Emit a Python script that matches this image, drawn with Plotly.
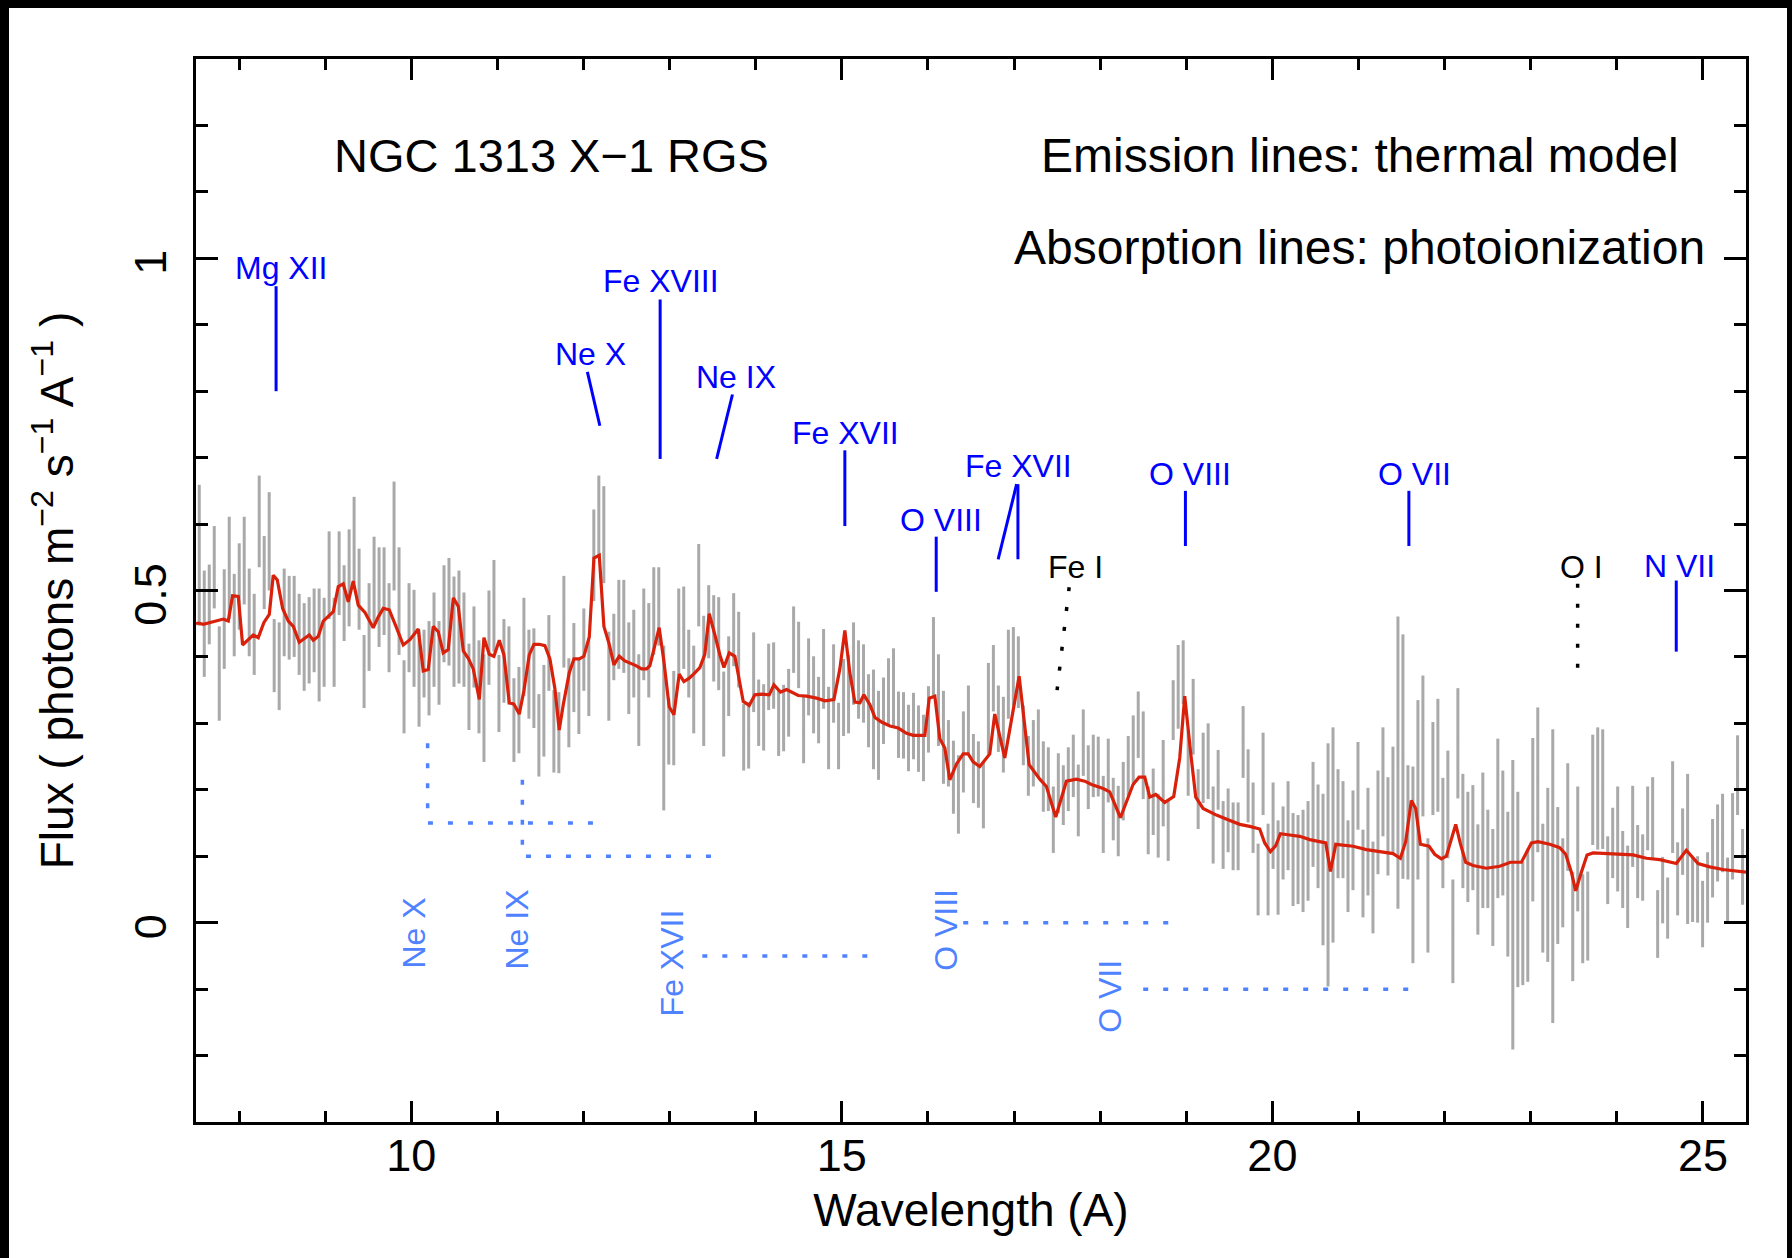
import plotly.graph_objects as go

# ---------------- data ----------------
WL_START = 7.538   # centre of first spectral bin (Angstrom)
WL_STEP = 0.058    # bin width (Angstrom)

flux = [
    0.553, 0.450, 0.479, 0.535, 0.375, 0.457, 0.534, 0.463, 0.506, 0.545,
    0.467, 0.434, 0.604, 0.527, 0.574, 0.402, 0.386, 0.467, 0.459, 0.461,
    0.434, 0.415, 0.425, 0.440, 0.418, 0.422, 0.523, 0.422, 0.526, 0.481,
    0.519, 0.576, 0.502, 0.378, 0.445, 0.514, 0.490, 0.499, 0.444, 0.582,
    0.484, 0.340, 0.444, 0.428, 0.368, 0.390, 0.383, 0.426, 0.391, 0.465,
    0.468, 0.438,
    0.445, 0.426, 0.355, 0.415, 0.355, 0.323, 0.429, 0.477, 0.345, 0.394,
    0.387, 0.305, 0.320, 0.415, 0.374, 0.368, 0.282, 0.319, 0.406, 0.288,
    0.286, 0.453, 0.331, 0.384, 0.341, 0.411, 0.368, 0.553, 0.611, 0.584,
    0.371, 0.415, 0.449, 0.446, 0.383, 0.405, 0.335, 0.434, 0.410, 0.469,
    0.476, 0.293, 0.288, 0.308, 0.438, 0.444, 0.390, 0.351, 0.508, 0.364,
    0.453, 0.428,
    0.420, 0.314, 0.371, 0.441, 0.411, 0.279, 0.282, 0.377, 0.316, 0.309,
    0.370, 0.372, 0.301, 0.308, 0.331, 0.426, 0.403, 0.290, 0.370, 0.343,
    0.320, 0.382, 0.293, 0.360, 0.281, 0.339, 0.344, 0.390, 0.366, 0.360,
    0.319, 0.306, 0.282, 0.319, 0.348, 0.354, 0.298, 0.297, 0.278, 0.296,
    0.277, 0.263, 0.306, 0.401, 0.335, 0.279, 0.255, 0.219, 0.193, 0.257,
    0.306, 0.232, 0.223,
    0.192, 0.322, 0.368, 0.307, 0.283, 0.374, 0.386, 0.377, 0.282, 0.236,
    0.255, 0.270, 0.220, 0.216, 0.155, 0.210, 0.192, 0.216, 0.236, 0.184,
    0.271, 0.219, 0.236, 0.235, 0.163, 0.229, 0.171, 0.153, 0.198, 0.236,
    0.261, 0.298, 0.252, 0.154, 0.182, 0.146, 0.210, 0.138, 0.320, 0.355,
    0.377, 0.241, 0.310, 0.186, 0.233, 0.243, 0.147, 0.215, 0.132, 0.154,
    0.130,
    0.130, 0.272, 0.206, 0.158, 0.065, 0.224, 0.080, 0.146, 0.083, 0.120,
    0.146, 0.095, 0.095, 0.093, 0.108, 0.163, 0.130, 0.080, 0.087, 0.132,
    0.149, 0.140, 0.085, 0.124, 0.206, 0.074, 0.122, 0.053, 0.151, 0.212,
    0.145, 0.184, 0.241, 0.250, 0.151, 0.087, 0.200, 0.266, 0.041, 0.232,
    0.252, 0.135, 0.178, -0.013, 0.270, 0.138, 0.114, 0.128, 0.065, 0.124,
    0.096, 0.053, 0.157,
    0.135, 0.058, 0.027, 0.050, -0.001, 0.011, 0.155, 0.215, 0.052, 0.072,
    0.070, 0.071, 0.060, 0.159, -0.006, 0.111, 0.006, 0.010, 0.200, 0.202,
    0.201, 0.079, 0.120, 0.126, 0.080, 0.054, 0.145, 0.092, 0.083, 0.157,
    0.157, -0.002, 0.049, 0.022, 0.174, 0.066, 0.122, 0.111, 0.049, 0.050,
    0.013, 0.053, 0.097, 0.120, 0.135, 0.048, 0.130, 0.222, 0.084,
]

flux_err = [
    0.106, 0.080, 0.060, 0.062, 0.071, 0.075, 0.077, 0.062, 0.065, 0.066,
    0.066, 0.061, 0.069, 0.055, 0.074, 0.055, 0.066, 0.066, 0.063, 0.061,
    0.061, 0.066, 0.065, 0.063, 0.085, 0.067, 0.066, 0.067, 0.063, 0.057,
    0.073, 0.065, 0.061, 0.055, 0.066, 0.067, 0.075, 0.066, 0.067, 0.082,
    0.081, 0.055, 0.067, 0.073, 0.073, 0.051, 0.071, 0.071, 0.063, 0.073,
    0.081, 0.083,
    0.085, 0.071, 0.065, 0.061, 0.070, 0.081, 0.071, 0.069, 0.058, 0.063,
    0.059, 0.063, 0.065, 0.074, 0.067, 0.075, 0.062, 0.069, 0.057, 0.062,
    0.061, 0.069, 0.067, 0.067, 0.057, 0.062, 0.057, 0.069, 0.062, 0.073,
    0.067, 0.050, 0.067, 0.070, 0.069, 0.066, 0.069, 0.069, 0.071, 0.066,
    0.059, 0.124, 0.050, 0.071, 0.065, 0.062, 0.051, 0.066, 0.062, 0.098,
    0.055, 0.065,
    0.070, 0.064, 0.060, 0.055, 0.057, 0.050, 0.050, 0.060, 0.050, 0.050,
    0.050, 0.050, 0.050, 0.050, 0.051, 0.050, 0.050, 0.050, 0.058, 0.058,
    0.050, 0.060, 0.062, 0.059, 0.050, 0.058, 0.059, 0.062, 0.059, 0.059,
    0.055, 0.075, 0.067, 0.050, 0.050, 0.059, 0.050, 0.050, 0.050, 0.050,
    0.050, 0.050, 0.050, 0.059, 0.069, 0.070, 0.050, 0.055, 0.059, 0.061,
    0.051, 0.052, 0.050,
    0.050, 0.069, 0.050, 0.050, 0.057, 0.067, 0.059, 0.054, 0.045, 0.045,
    0.050, 0.051, 0.053, 0.048, 0.050, 0.045, 0.045, 0.048, 0.047, 0.054,
    0.050, 0.048, 0.047, 0.045, 0.058, 0.048, 0.047, 0.053, 0.044, 0.045,
    0.051, 0.050, 0.066, 0.051, 0.050, 0.048, 0.065, 0.045, 0.045, 0.063,
    0.048, 0.050, 0.057, 0.045, 0.053, 0.057, 0.058, 0.045, 0.051, 0.048,
    0.051,
    0.051, 0.054, 0.055, 0.053, 0.054, 0.062, 0.069, 0.065, 0.071, 0.055,
    0.067, 0.070, 0.067, 0.077, 0.075, 0.079, 0.078, 0.114, 0.183, 0.162,
    0.082, 0.073, 0.069, 0.075, 0.066, 0.066, 0.081, 0.069, 0.078, 0.082,
    0.074, 0.081, 0.220, 0.184, 0.086, 0.148, 0.135, 0.106, 0.086, 0.070,
    0.085, 0.083, 0.081, 0.078, 0.083, 0.086, 0.083, 0.079, 0.083, 0.102,
    0.074, 0.088, 0.120,
    0.094, 0.109, 0.218, 0.147, 0.093, 0.100, 0.123, 0.109, 0.097, 0.131,
    0.221, 0.103, 0.067, 0.081, 0.082, 0.094, 0.067, 0.067, 0.083, 0.092,
    0.090, 0.051, 0.053, 0.079, 0.058, 0.062, 0.061, 0.055, 0.050, 0.048,
    0.062, 0.051, 0.050, 0.046, 0.069, 0.055, 0.050, 0.113, 0.048, 0.050,
    0.050, 0.053, 0.059, 0.058, 0.059, 0.050, 0.065, 0.060, 0.057,
]

wavelength = [round(WL_START + i * WL_STEP, 4) for i in range(len(flux))]

model_wl = [
    7.50, 7.527, 7.585, 7.662, 7.740, 7.817, 7.875, 7.925, 7.991, 8.041, 8.107, 8.165,
    8.223, 8.289, 8.351, 8.397, 8.444, 8.506, 8.572, 8.630, 8.699, 8.765, 8.815,
    8.862, 8.920, 8.978, 9.048, 9.094, 9.152, 9.210, 9.268, 9.326, 9.384, 9.462,
    9.558, 9.616, 9.675, 9.744, 9.822, 9.907, 9.984, 10.081, 10.139, 10.197,
    10.255, 10.313, 10.371, 10.429, 10.488, 10.546, 10.604, 10.662, 10.720,
    10.790, 10.844, 10.906, 10.960, 11.022, 11.076, 11.138, 11.192, 11.254,
    11.308, 11.370, 11.424, 11.486, 11.552, 11.610, 11.668, 11.718, 11.765,
    11.834, 11.889, 11.951, 12.005, 12.067, 12.121, 12.183, 12.237, 12.299,
    12.353, 12.415, 12.481, 12.539, 12.609, 12.674, 12.733, 12.771, 12.829,
    12.879, 12.934, 12.995, 13.050, 13.111, 13.166, 13.228, 13.293, 13.351,
    13.409, 13.460, 13.526, 13.584, 13.631, 13.692, 13.758, 13.855, 13.925,
    13.990, 14.068, 14.157, 14.211, 14.288, 14.358, 14.416, 14.494, 14.590,
    14.706, 14.803, 14.908, 14.977, 15.035, 15.093, 15.151, 15.210, 15.256,
    15.326, 15.384, 15.461, 15.558, 15.655, 15.751, 15.829, 15.898, 15.964,
    16.015, 16.080, 16.138, 16.196, 16.254, 16.332, 16.409, 16.467, 16.525,
    16.602, 16.718, 16.776, 16.892, 17.059, 17.175, 17.299, 17.376, 17.484,
    17.608, 17.724, 17.821, 17.899, 18.034, 18.111, 18.235, 18.382, 18.452,
    18.518, 18.576, 18.645, 18.750, 18.854, 18.924, 18.982, 19.048, 19.110,
    19.195, 19.350, 19.485, 19.621, 19.737, 19.853, 19.911, 19.977, 20.039,
    20.093, 20.202, 20.318, 20.434, 20.620, 20.674, 20.736, 20.937, 21.092,
    21.247, 21.401, 21.486, 21.548, 21.614, 21.664, 21.719, 21.819, 21.885,
    21.962, 22.020, 22.129, 22.183, 22.245, 22.330, 22.485, 22.640, 22.764,
    22.892, 23.008, 23.085, 23.221, 23.337, 23.406, 23.472, 23.522, 23.588,
    23.654, 23.724, 23.878, 24.072, 24.188, 24.343, 24.498, 24.691, 24.807,
    24.943, 25.078, 25.233, 25.465, 25.50,
]

model_flux = [
    0.450, 0.451, 0.449, 0.452, 0.454, 0.457, 0.454, 0.492, 0.491, 0.418, 0.426, 0.433,
    0.429, 0.452, 0.464, 0.523, 0.516, 0.473, 0.454, 0.446, 0.422, 0.428, 0.433,
    0.425, 0.431, 0.454, 0.463, 0.468, 0.506, 0.510, 0.483, 0.514, 0.478, 0.467,
    0.444, 0.460, 0.473, 0.471, 0.446, 0.418, 0.426, 0.442, 0.379, 0.381,
    0.446, 0.438, 0.406, 0.411, 0.489, 0.476, 0.409, 0.398, 0.382,
    0.336, 0.429, 0.404, 0.401, 0.425, 0.403, 0.331, 0.329, 0.314,
    0.349, 0.403, 0.419, 0.419, 0.417, 0.397, 0.352, 0.290, 0.328,
    0.376, 0.397, 0.397, 0.401, 0.430, 0.549, 0.553, 0.446, 0.419,
    0.388, 0.401, 0.394, 0.391, 0.387, 0.382, 0.382, 0.387, 0.419,
    0.444, 0.393, 0.325, 0.313, 0.374, 0.363, 0.368, 0.376, 0.384,
    0.404, 0.465, 0.433, 0.403, 0.384, 0.406, 0.401, 0.333, 0.327,
    0.343, 0.344, 0.343, 0.358, 0.347, 0.351, 0.347, 0.342, 0.341,
    0.338, 0.334, 0.336, 0.382, 0.440, 0.376, 0.332, 0.331, 0.343,
    0.328, 0.309, 0.302, 0.296, 0.293, 0.285, 0.282, 0.282, 0.282,
    0.338, 0.341, 0.277, 0.263, 0.215, 0.239, 0.254, 0.254, 0.242,
    0.235, 0.254, 0.314, 0.248, 0.371, 0.238, 0.216, 0.205, 0.159,
    0.213, 0.216, 0.213, 0.208, 0.202, 0.197, 0.158, 0.208, 0.219,
    0.219, 0.189, 0.193, 0.181, 0.190, 0.248, 0.341, 0.259, 0.189,
    0.172, 0.162, 0.155, 0.148, 0.145, 0.141, 0.120, 0.107, 0.116,
    0.134, 0.132, 0.130, 0.125, 0.120, 0.077, 0.118, 0.115, 0.110,
    0.107, 0.104, 0.097, 0.122, 0.184, 0.172, 0.118, 0.115, 0.103,
    0.096, 0.100, 0.148, 0.119, 0.091, 0.086, 0.082, 0.085, 0.091,
    0.091, 0.120, 0.122, 0.118, 0.113, 0.103, 0.076, 0.048, 0.076,
    0.102, 0.105, 0.104, 0.103, 0.102, 0.097, 0.095, 0.089, 0.109,
    0.089, 0.084, 0.080, 0.077, 0.076,
]

# emission-line identifications (thermal model)
emis_labels = ["Mg XII", "Fe XVIII", "Ne X", "Ne IX", "Fe XVII", "O VIII",
               "Fe XVII", "O VIII", "O VII", "N VII"]
emis_text_wl = [8.49, 12.895, 12.085, 13.77, 15.046, 16.149, 17.052, 19.044, 21.647, 24.728]
emis_text_flux = [0.985, 0.966, 0.856, 0.822, 0.737, 0.606, 0.687, 0.675, 0.675, 0.537]
emis_seg_wl = [[8.43, 8.43], [12.89, 12.89], [12.045, 12.19], [13.73, 13.546],
               [15.035, 15.035], [16.096, 16.096], [17.03, 16.815], [17.045, 17.045],
               [18.99, 18.99], [21.585, 21.585], [24.69, 24.69]]
emis_seg_flux = [[0.958, 0.80], [0.938, 0.698], [0.829, 0.748], [0.795, 0.698],
                 [0.711, 0.597], [0.581, 0.498], [0.660, 0.547], [0.660, 0.547],
                 [0.650, 0.567], [0.650, 0.567], [0.515, 0.408]]

# neutral absorption edges
neut_labels = ["Fe I", "O I"]
neut_text_wl = [17.716, 23.585]
neut_text_flux = [0.536, 0.536]
neut_seg_wl = [[17.64, 17.50], [23.545, 23.545]]
neut_seg_flux = [[0.505, 0.350], [0.510, 0.360]]

# absorption lines (photoionization)
abs_labels = ["Ne X", "Ne IX", "Fe XVII", "O VIII", "O VII"]
abs_text_wl = [10.03, 11.222, 13.03, 16.215, 18.114]
abs_text_flux = [-0.015, -0.011, -0.061, -0.010, -0.110]
abs_seg_wl = [[10.19, 10.19, 12.13], [11.29, 11.29, 13.48], [13.38, 15.34],
              [16.41, 18.92], [18.50, 21.62]]
abs_seg_flux = [[0.27, 0.15, 0.15], [0.215, 0.10, 0.10], [-0.05, -0.05],
                [0.0, 0.0], [-0.10, -0.10]]

# axis ticks
x_tickvals = [10, 15, 20, 25]
x_ticktext = ["10", "15", "20", "25"]
y_tickvals = [0, 0.5, 1]
y_ticktext = ["0\u00a0\u2009", "0.5\u00a0\u2009", "1\u00a0\u2009"]

# ---------------- styling ----------------
FONT = "Liberation Sans, Arial, Helvetica, sans-serif"
BLUE = "#0000FF"
LIGHT_BLUE = "#4F82FF"
RED = "#D9200B"
GRAY = "#A9A9A9"


def joined(segs_x, segs_y):
    xs, ys = [], []
    for sx, sy in zip(segs_x, segs_y):
        xs += list(sx) + [None]
        ys += list(sy) + [None]
    return xs, ys


fig = go.Figure()

fig.add_trace(go.Scatter(
    x=wavelength, y=flux, mode="markers",
    marker=dict(size=2, color=GRAY),
    error_y=dict(type="data", array=flux_err, visible=True, color=GRAY,
                 thickness=3, width=0),
    showlegend=False, hoverinfo="skip"))

fig.add_trace(go.Scatter(
    x=model_wl, y=model_flux, mode="lines",
    line=dict(color=RED, width=3.2), showlegend=False))

ex, ey = joined(emis_seg_wl, emis_seg_flux)
fig.add_trace(go.Scatter(x=ex, y=ey, mode="lines",
                         line=dict(color=BLUE, width=3), showlegend=False))

nx, ny = joined(neut_seg_wl, neut_seg_flux)
fig.add_trace(go.Scatter(x=nx, y=ny, mode="lines",
                         line=dict(color="black", width=3.5, dash="4px,16px"),
                         showlegend=False))

ax_, ay_ = joined(abs_seg_wl, abs_seg_flux)
fig.add_trace(go.Scatter(x=ax_, y=ay_, mode="lines",
                         line=dict(color=LIGHT_BLUE, width=3.5, dash="5px,15px"),
                         showlegend=False))

annotations = []
for t, x, y in zip(emis_labels, emis_text_wl, emis_text_flux):
    annotations.append(dict(x=x, y=y, text=t, showarrow=False, xref="x", yref="y",
                            font=dict(family=FONT, size=32, color=BLUE)))
for t, x, y in zip(neut_labels, neut_text_wl, neut_text_flux):
    annotations.append(dict(x=x, y=y, text=t, showarrow=False, xref="x", yref="y",
                            font=dict(family=FONT, size=32, color="black")))
for t, x, y in zip(abs_labels, abs_text_wl, abs_text_flux):
    annotations.append(dict(x=x, y=y, text=t, showarrow=False, xref="x", yref="y",
                            textangle=-90,
                            font=dict(family=FONT, size=32, color=LIGHT_BLUE)))

annotations += [
    dict(x=11.633, y=1.155, text="NGC 1313 X\u22121 RGS", showarrow=False,
         xref="x", yref="y", font=dict(family=FONT, size=47, color="black")),
    dict(x=21.02, y=1.155, text="Emission lines: thermal model", showarrow=False,
         xref="x", yref="y", font=dict(family=FONT, size=48, color="black")),
    dict(x=21.01, y=1.016, text="Absorption lines: photoionization", showarrow=False,
         xref="x", yref="y", font=dict(family=FONT, size=48, color="black")),
]

# black frame around the picture (edges of the original image)
W, H = 1792, 1258
L, R, T, B = 196, 46, 59, 136
pw, ph = W - L - R, H - T - B


def px(xp):
    return (xp - L) / pw


def py(yp):
    return (H - B - yp) / ph


shapes = [
    dict(type="rect", xref="paper", yref="paper", x0=px(0), x1=px(9), y0=py(H), y1=py(0),
         fillcolor="black", line=dict(width=0), layer="above"),
    dict(type="rect", xref="paper", yref="paper", x0=px(0), x1=px(W), y0=py(8), y1=py(0),
         fillcolor="black", line=dict(width=0), layer="above"),
    dict(type="rect", xref="paper", yref="paper", x0=px(1787), x1=px(W), y0=py(H), y1=py(0),
         fillcolor="black", line=dict(width=0), layer="above"),
]

axis_common = dict(
    showline=True, linecolor="black", linewidth=2.5, mirror="allticks",
    ticks="inside", tickcolor="black", tickwidth=2.5,
    showgrid=False, zeroline=False,
    tickfont=dict(family=FONT, size=45, color="black"),
)

fig.update_layout(
    width=W, height=H,
    margin=dict(l=L, r=R, t=T, b=B),
    paper_bgcolor="white", plot_bgcolor="white",
    annotations=annotations, shapes=shapes,
    xaxis=dict(range=[7.5, 25.5], tickmode="array", tickvals=x_tickvals,
               ticktext=x_ticktext, ticklen=21, ticklabelstandoff=-8,
               minor=dict(ticks="inside", ticklen=11, dtick=1, tick0=0,
                          tickcolor="black", tickwidth=2.5),
               title=dict(text="Wavelength (A)", standoff=15,
                          font=dict(family=FONT, size=46, color="black")),
               **axis_common),
    yaxis=dict(range=[-0.3, 1.3], tickmode="array", tickvals=y_tickvals,
               ticktext=y_ticktext, ticklen=22, tickangle=-90, ticklabelstandoff=9,
               minor=dict(ticks="inside", ticklen=12, dtick=0.1, tick0=0,
                          tickcolor="black", tickwidth=2.5),
               title=dict(text="Flux ( photons m<sup>\u22122</sup> s<sup>\u22121</sup> A<sup>\u22121</sup> )",
                          standoff=38,
                          font=dict(family=FONT, size=46, color="black")),
               **axis_common),
)

fig.write_html("out.html")
